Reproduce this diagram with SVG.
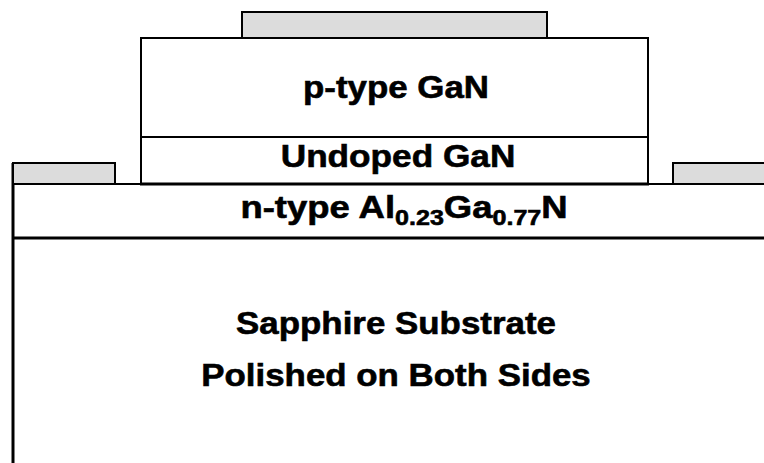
<svg xmlns="http://www.w3.org/2000/svg" width="764" height="463" viewBox="0 0 764 463">
<style>
.lbl{font-family:"Liberation Sans",Arial,sans-serif;font-weight:bold;font-size:32px;fill:#000;stroke:#000;stroke-width:0.6;text-anchor:middle}
.sub{font-size:22px}
.layer{fill:#fff;stroke:#000;stroke-width:2}
.contact{fill:#dcdcdc;stroke:#000;stroke-width:2}
.ln{stroke:#000;fill:none}
</style>
<rect width="764" height="463" fill="#fff"/>
<g id="substrate">
<line class="ln" x1="13" y1="238" x2="13" y2="463" stroke-width="3"/>
<g transform="translate(396,0) scale(1.09,1)">
<text class="lbl" x="0" y="334">Sapphire Substrate</text>
<text class="lbl" x="0" y="386">Polished on Both Sides</text>
</g>
</g>
<g id="n-type">
<line class="ln" x1="13" y1="184" x2="764" y2="184" stroke-width="2"/>
<line class="ln" x1="13" y1="163" x2="13" y2="238" stroke-width="3"/>
<line class="ln" x1="12" y1="238" x2="764" y2="238" stroke-width="3"/>
<g transform="translate(404,0) scale(1.14,1)">
<text class="lbl" x="0" y="218">n-type Al<tspan class="sub" dy="7">0.23</tspan><tspan dy="-7">Ga</tspan><tspan class="sub" dy="7">0.77</tspan><tspan dy="-7">N</tspan></text>
</g>
</g>
<g id="undoped">
<rect class="layer" x="141" y="137" width="507" height="47"/>
<line class="ln" x1="140" y1="184" x2="649" y2="184" stroke-width="3"/>
<g transform="translate(398,0) scale(1.1,1)">
<text class="lbl" x="0" y="167">Undoped GaN</text>
</g>
</g>
<g id="p-type">
<rect class="layer" x="141" y="38" width="507" height="99"/>
<g transform="translate(396,0) scale(1.09,1)">
<text class="lbl" x="0" y="98">p-type GaN</text>
</g>
</g>
<g id="contact-top"><rect class="contact" x="242" y="12" width="305" height="26"/></g>
<g id="contact-left"><rect class="contact" x="13" y="163" width="102" height="21"/></g>
<g id="contact-right"><rect class="contact" x="673" y="163" width="100" height="21"/></g>
<g id="connectors"></g>
</svg>
